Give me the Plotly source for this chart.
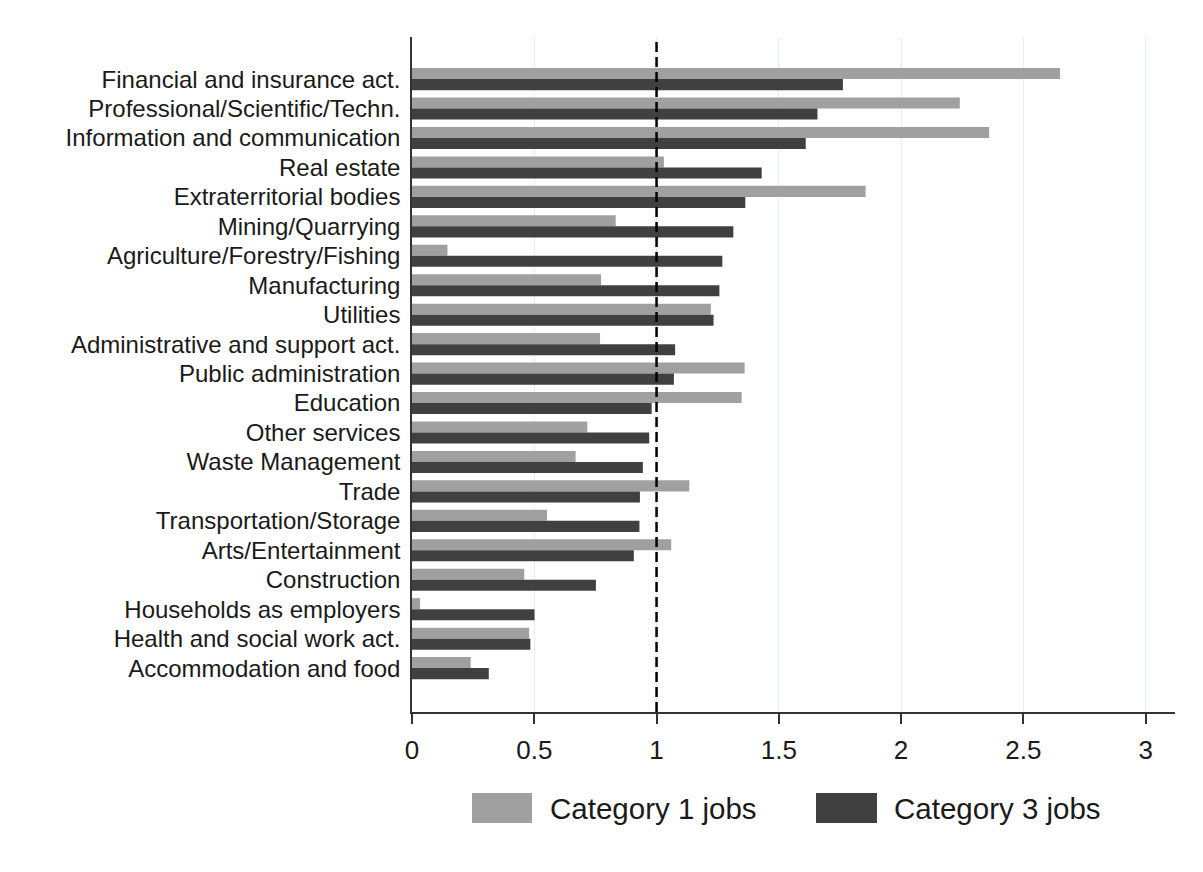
import plotly.graph_objects as go

categories = [
    "Financial and insurance act.", "Professional/Scientific/Techn.",
    "Information and communication", "Real estate", "Extraterritorial bodies",
    "Mining/Quarrying", "Agriculture/Forestry/Fishing", "Manufacturing",
    "Utilities", "Administrative and support act.", "Public administration",
    "Education", "Other services", "Waste Management", "Trade",
    "Transportation/Storage", "Arts/Entertainment", "Construction",
    "Households as employers", "Health and social work act.",
    "Accommodation and food",
]
cat1 = [2.65, 2.24, 2.36, 1.03, 1.855, 0.833, 0.145, 0.773, 1.222, 0.769, 1.36,
        1.348, 0.717, 0.669, 1.134, 0.552, 1.06, 0.459, 0.033, 0.479, 0.24]
cat3 = [1.762, 1.658, 1.61, 1.43, 1.363, 1.314, 1.269, 1.257, 1.233, 1.076, 1.071,
        0.98, 0.97, 0.944, 0.932, 0.93, 0.907, 0.752, 0.501, 0.484, 0.314]
series_names = ["Category 1 jobs", "Category 3 jobs"]
x_ticks = [0, 0.5, 1, 1.5, 2, 2.5, 3]
x_tick_labels = ["0", "0.5", "1", "1.5", "2", "2.5", "3"]
reference_value = 1

GRAY = "#a0a0a0"
DARK = "#404040"
FONT = "Liberation Sans, Arial, sans-serif"

# page body adds an 8px offset; layout numbers below are in figure coords
W, H = 1203, 872
L, R, T, B = 404, 36, 29, 168

fig = go.Figure()
fig.add_trace(go.Bar(y=categories, x=cat1, orientation="h", name=series_names[0],
                     marker=dict(color=GRAY, line=dict(width=0)), showlegend=False))
fig.add_trace(go.Bar(y=categories, x=cat3, orientation="h", name=series_names[1],
                     marker=dict(color=DARK, line=dict(width=0)), showlegend=False))

n = len(categories)
fig.update_layout(
    width=W, height=H,
    margin=dict(l=L, r=R, t=T, b=B),
    paper_bgcolor="white", plot_bgcolor="white",
    barmode="group", bargap=0.25, bargroupgap=0.0,
    font=dict(family=FONT, color="#1a1a1a"),
    xaxis=dict(range=[0, 3.12], tickvals=x_ticks, ticktext=x_tick_labels,
               showgrid=True, gridcolor="#e6eef2", gridwidth=1.2,
               zeroline=False, showline=True, linecolor="#333333", linewidth=1.5,
               ticks="outside", ticklen=10, tickcolor="#333333", tickwidth=1.5,
               ticklabelstandoff=4,
               tickfont=dict(size=26, family=FONT, color="#1a1a1a")),
    yaxis=dict(type="category", categoryorder="array", categoryarray=categories,
               range=[n - 1 + 1.49, -1.43], showgrid=False, zeroline=False,
               showline=True, linecolor="#333333", linewidth=1.5, ticks="",
               ticklabelstandoff=5,
               tickfont=dict(size=24, family=FONT, color="#1a1a1a")),
)

fig.add_shape(type="line", xref="x", yref="paper", x0=reference_value, x1=reference_value,
              y0=0, y1=1, line=dict(color="black", width=2.5, dash="10px,5px"))

# manual legend (pixel positions in screen coords, converted)
legend_items = [(GRAY, series_names[0], 472, 532, 551), (DARK, series_names[1], 816, 877, 895)]
pw = W - L - R
ph = H - T - B
def px_to_paper_x(px):
    return (px - 8 - L) / pw
def py_to_paper_y(py):
    return (H - B - (py - 8)) / ph
for color, label, sx0, sx1, tx in legend_items:
    fig.add_shape(type="rect", xref="paper", yref="paper",
                  x0=px_to_paper_x(sx0), x1=px_to_paper_x(sx1),
                  y0=py_to_paper_y(823), y1=py_to_paper_y(793),
                  fillcolor=color, line=dict(width=0))
    fig.add_annotation(xref="paper", yref="paper", x=px_to_paper_x(tx), y=py_to_paper_y(808),
                       text=label, showarrow=False, xanchor="left", yanchor="middle",
                       xshift=-3, font=dict(size=29.5, family=FONT, color="#1a1a1a"))

fig.write_html("out.html")
